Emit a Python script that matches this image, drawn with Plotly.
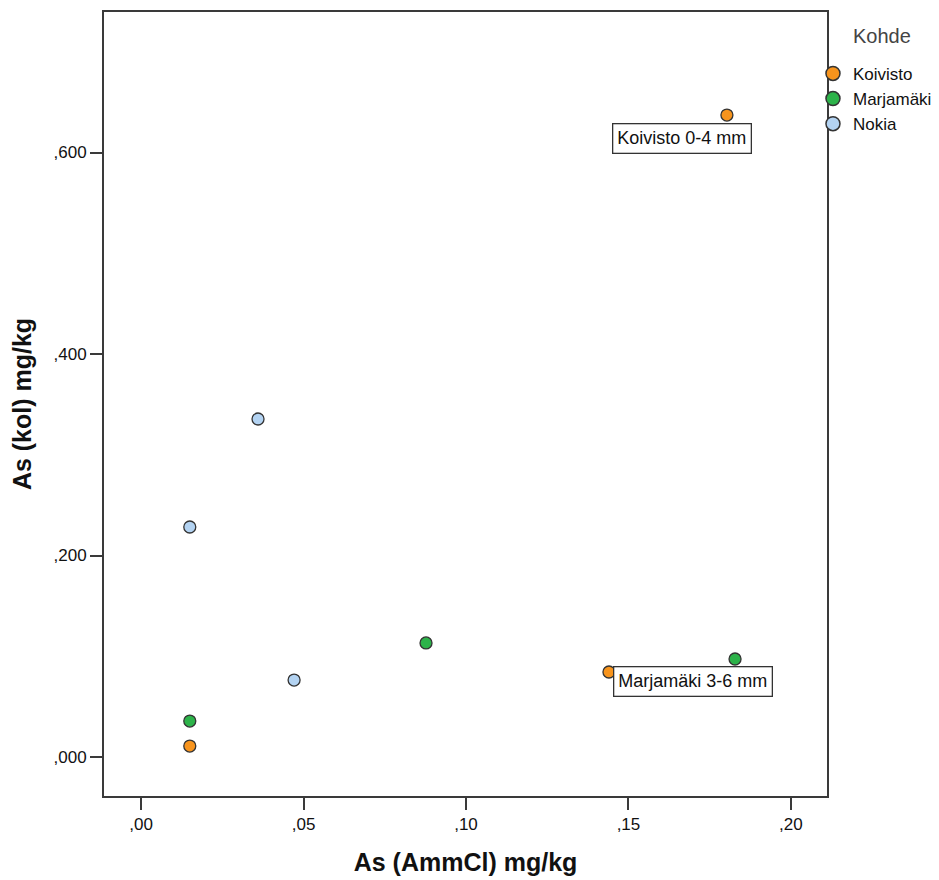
import plotly.graph_objects as go

# Data
groups = ["Koivisto", "Marjamäki", "Nokia"]
colors = ["#F7941D", "#2DB34A", "#B3D3F2"]
koivisto_x = [0.1803, 0.1440, 0.0150]
koivisto_y = [0.6372, 0.0844, 0.0109]
marjamaki_x = [0.1828, 0.0877, 0.0150]
marjamaki_y = [0.0973, 0.1132, 0.0357]
nokia_x = [0.0360, 0.0150, 0.0471]
nokia_y = [0.3355, 0.2283, 0.0764]

x_tickvals = [0.0, 0.05, 0.10, 0.15, 0.20]
x_ticktext = [",00", ",05", ",10", ",15", ",20"]
y_tickvals = [0.0, 0.2, 0.4, 0.6]
y_ticktext = [",000", ",200", ",400", ",600"]

labels = [("Koivisto 0-4 mm", koivisto_x[0], koivisto_y[0], -44.5, -23),
          ("Marjamäki 3-6 mm", marjamaki_x[0], marjamaki_y[0], -42.5, -22.5)]

FONT = "Liberation Sans, Arial, sans-serif"
AX = "#3a3a3a"

fig = go.Figure()
for name, col, xs, ys in zip(groups, colors,
                             [koivisto_x, marjamaki_x, nokia_x],
                             [koivisto_y, marjamaki_y, nokia_y]):
    fig.add_trace(go.Scatter(
        x=xs, y=ys, mode="markers", name=name, legendgroup=name,
        showlegend=False,
        marker=dict(size=12, color=col, line=dict(color="#333333", width=1.3)),
    ))
    # legend entry with a larger symbol (no data drawn)
    fig.add_trace(go.Scatter(
        x=[None], y=[None], mode="markers", name=name, legendgroup=name,
        showlegend=True,
        marker=dict(size=14, color=col, line=dict(color="#333333", width=1.5)),
    ))

for text, px, py, dx, dy in labels:
    fig.add_annotation(
        x=px, y=py, xref="x", yref="y", text=text, showarrow=False,
        xshift=dx, yshift=dy,
        font=dict(family=FONT, size=18, color="#111111"),
        bgcolor="white", bordercolor="#333333", borderwidth=1.3, borderpad=4,
    )

fig.add_annotation(
    x=1.076, y=0.9694, xref="paper", yref="paper", text="Kohde",
    showarrow=False, xanchor="center", yanchor="middle",
    font=dict(family=FONT, size=20, color="#444444"),
)

fig.update_layout(
    width=931, height=872,
    margin=dict(l=96, r=112, t=4, b=84, autoexpand=False),
    paper_bgcolor="white", plot_bgcolor="white",
    font=dict(family=FONT, color="#111111"),
    showlegend=True,
    legend=dict(
        x=0.9806, y=0.944, xanchor="left", yanchor="top",
        font=dict(family=FONT, size=17, color="#111111"),
        bgcolor="rgba(0,0,0,0)", itemwidth=30, tracegroupgap=0,
    ),
    xaxis=dict(
        range=[-0.0114, 0.2111],
        tickvals=x_tickvals, ticktext=x_ticktext,
        ticks="outside", ticklen=12, tickcolor=AX, tickwidth=1.5,
        showline=True, mirror=True, linecolor=AX, linewidth=1.8,
        showgrid=False, zeroline=False,
        tickfont=dict(family=FONT, size=17, color="#111111"),
        title=dict(text="<b>As (AmmCl) mg/kg</b>", standoff=20,
                   font=dict(family=FONT, size=25, color="#111111")),
    ),
    yaxis=dict(
        range=[-0.0387, 0.7395],
        tickvals=y_tickvals, ticktext=y_ticktext,
        ticks="outside", ticklen=12, tickcolor=AX, tickwidth=1.5,
        showline=True, mirror=True, linecolor=AX, linewidth=1.8,
        showgrid=False, zeroline=False,
        tickfont=dict(family=FONT, size=17, color="#111111"),
        title=dict(text="<b>As (kol) mg/kg</b>", standoff=16,
                   font=dict(family=FONT, size=25, color="#111111")),
    ),
)

fig.write_html("out.html")
